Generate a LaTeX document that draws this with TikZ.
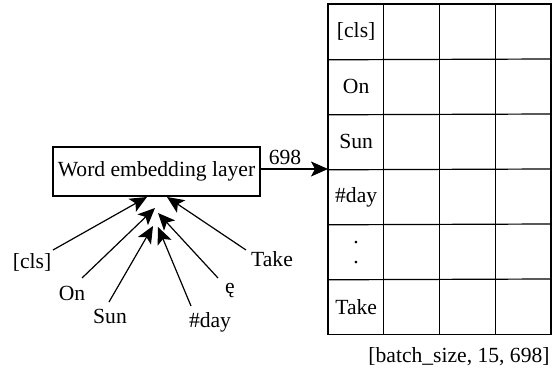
\documentclass[tikz,border=0pt]{standalone}
\usepackage{fontspec}
\setmainfont{Liberation Serif}
\usetikzlibrary{arrows.meta}
\begin{document}
\begin{tikzpicture}[x=0.5pt,y=-0.5pt,
  lbl/.style={font=\fontsize{10.8}{12}\selectfont, inner sep=0pt},
  cell/.style={minimum width=27.75pt, minimum height=27.5pt, inner sep=0pt, anchor=north west, font=\fontsize{10.8}{12}\selectfont},
  gridline/.style={line width=0.6pt},
  arr/.style={line width=0.6pt, -{Stealth[length=8.5pt,width=7.5pt,inset=2pt]}}]
\useasboundingbox (0,0) rectangle (552,373);
% embedding box
\node[draw, line width=0.6pt, minimum width=103.5pt, minimum height=24.5pt, inner sep=0pt, font=\fontsize{10.8}{12}\selectfont] (emb) at (156.5,171.5) {Word embedding layer};
% grid
\foreach \r/\t in {0/{[cls]},1/On,2/Sun,3/{\#day},4/{},5/Take}{
  \node[cell] (g\r c0) at (328,{4+55*\r}) {\t};
}
\node[lbl] (dot1) at (356,243) {.};
\node[lbl] (dot2) at (356,263) {.};
\draw[gridline] (g0c0.north west) rectangle (g5c0.south west -| 551,0);
\foreach \x in {383.75,439.5,495.25}{\draw[gridline] (\x,4) -- (\x,334);}
\foreach \r in {0,...,4}{\draw[gridline] (g\r c0.south west) -- (551,{59+55*\r});}
\node[lbl] (dim) at (459,357) {[batch\_size, 15, 698]};
% arrow to grid
\coordinate (ein) at (260,169);
\draw[arr] (ein) -- (g3c0.north west);
\node[lbl] (n698) at (285,157) {698};
% tokens
\node[lbl] (tcls) at (32,262) {[cls]};
\node[lbl] (ton) at (72,293) {On};
\node[lbl] (tsun) at (110,316) {Sun};
\node[lbl] (tday) at (210,322) {\#day};
\node[lbl] (te) at (230,291) {ę};
\node[lbl] (ttake) at (272,259) {Take};
\coordinate (s1) at (53,250);  \coordinate (e1) at (147,197);
\coordinate (s2) at (82,278);  \coordinate (e2) at (155,208);
\coordinate (s3) at (109,302); \coordinate (e3) at (153,226);
\coordinate (s4) at (191,306); \coordinate (e4) at (158,227);
\coordinate (s5) at (218,278); \coordinate (e5) at (158,213);
\coordinate (s6) at (246,250); \coordinate (e6) at (167,197);
\foreach \i in {1,...,6}{\draw[arr] (s\i) -- (e\i);}
\end{tikzpicture}
\end{document}
